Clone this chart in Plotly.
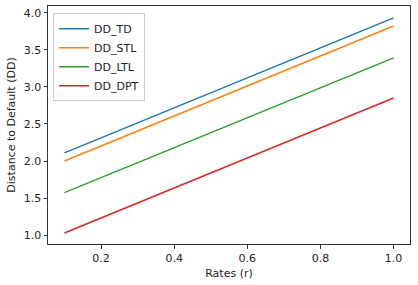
import plotly.graph_objects as go

rates = [0.1, 1.0]
dd_td = [2.11, 3.93]
dd_stl = [2.00, 3.82]
dd_ltl = [1.575, 3.39]
dd_dpt = [1.03, 2.85]

series = [("DD_TD", dd_td, "#1f77b4"),
          ("DD_STL", dd_stl, "#ff7f0e"),
          ("DD_LTL", dd_ltl, "#2ca02c"),
          ("DD_DPT", dd_dpt, "#d62728")]

fig = go.Figure()
for name, vals, color in series:
    fig.add_trace(go.Scatter(x=rates, y=vals, mode="lines", name=name,
                             line=dict(color=color, width=1.5)))

FS = 11
axis_common = dict(showgrid=False, zeroline=False, showline=True, linecolor="#333",
                   linewidth=1, mirror=True, ticks="outside", ticklen=3.5,
                   tickcolor="#333", tickfont=dict(size=FS, color="#222"))

fig.update_layout(
    width=418, height=285,
    margin=dict(l=48, r=8, t=6, b=41),
    paper_bgcolor="white", plot_bgcolor="white",
    font=dict(family="DejaVu Sans", size=FS, color="#222"),
    xaxis=dict(range=[0.055, 1.045], tickvals=[0.2, 0.4, 0.6, 0.8, 1.0],
               tickformat=".1f",
               title=dict(text="Rates (r)", font=dict(size=FS), standoff=5),
               **axis_common),
    yaxis=dict(range=[0.882, 4.09], tickvals=[1.0, 1.5, 2.0, 2.5, 3.0, 3.5, 4.0],
               tickformat=".1f",
               title=dict(text="Distance to Default (DD)", font=dict(size=FS), standoff=5),
               **axis_common),
    legend=dict(x=0.014, y=0.97, xanchor="left", yanchor="top",
                bgcolor="rgba(255,255,255,0.8)", bordercolor="#ccc", borderwidth=1,
                font=dict(size=FS), tracegroupgap=0, itemwidth=30),
    showlegend=True,
)

fig.write_html("out.html")
